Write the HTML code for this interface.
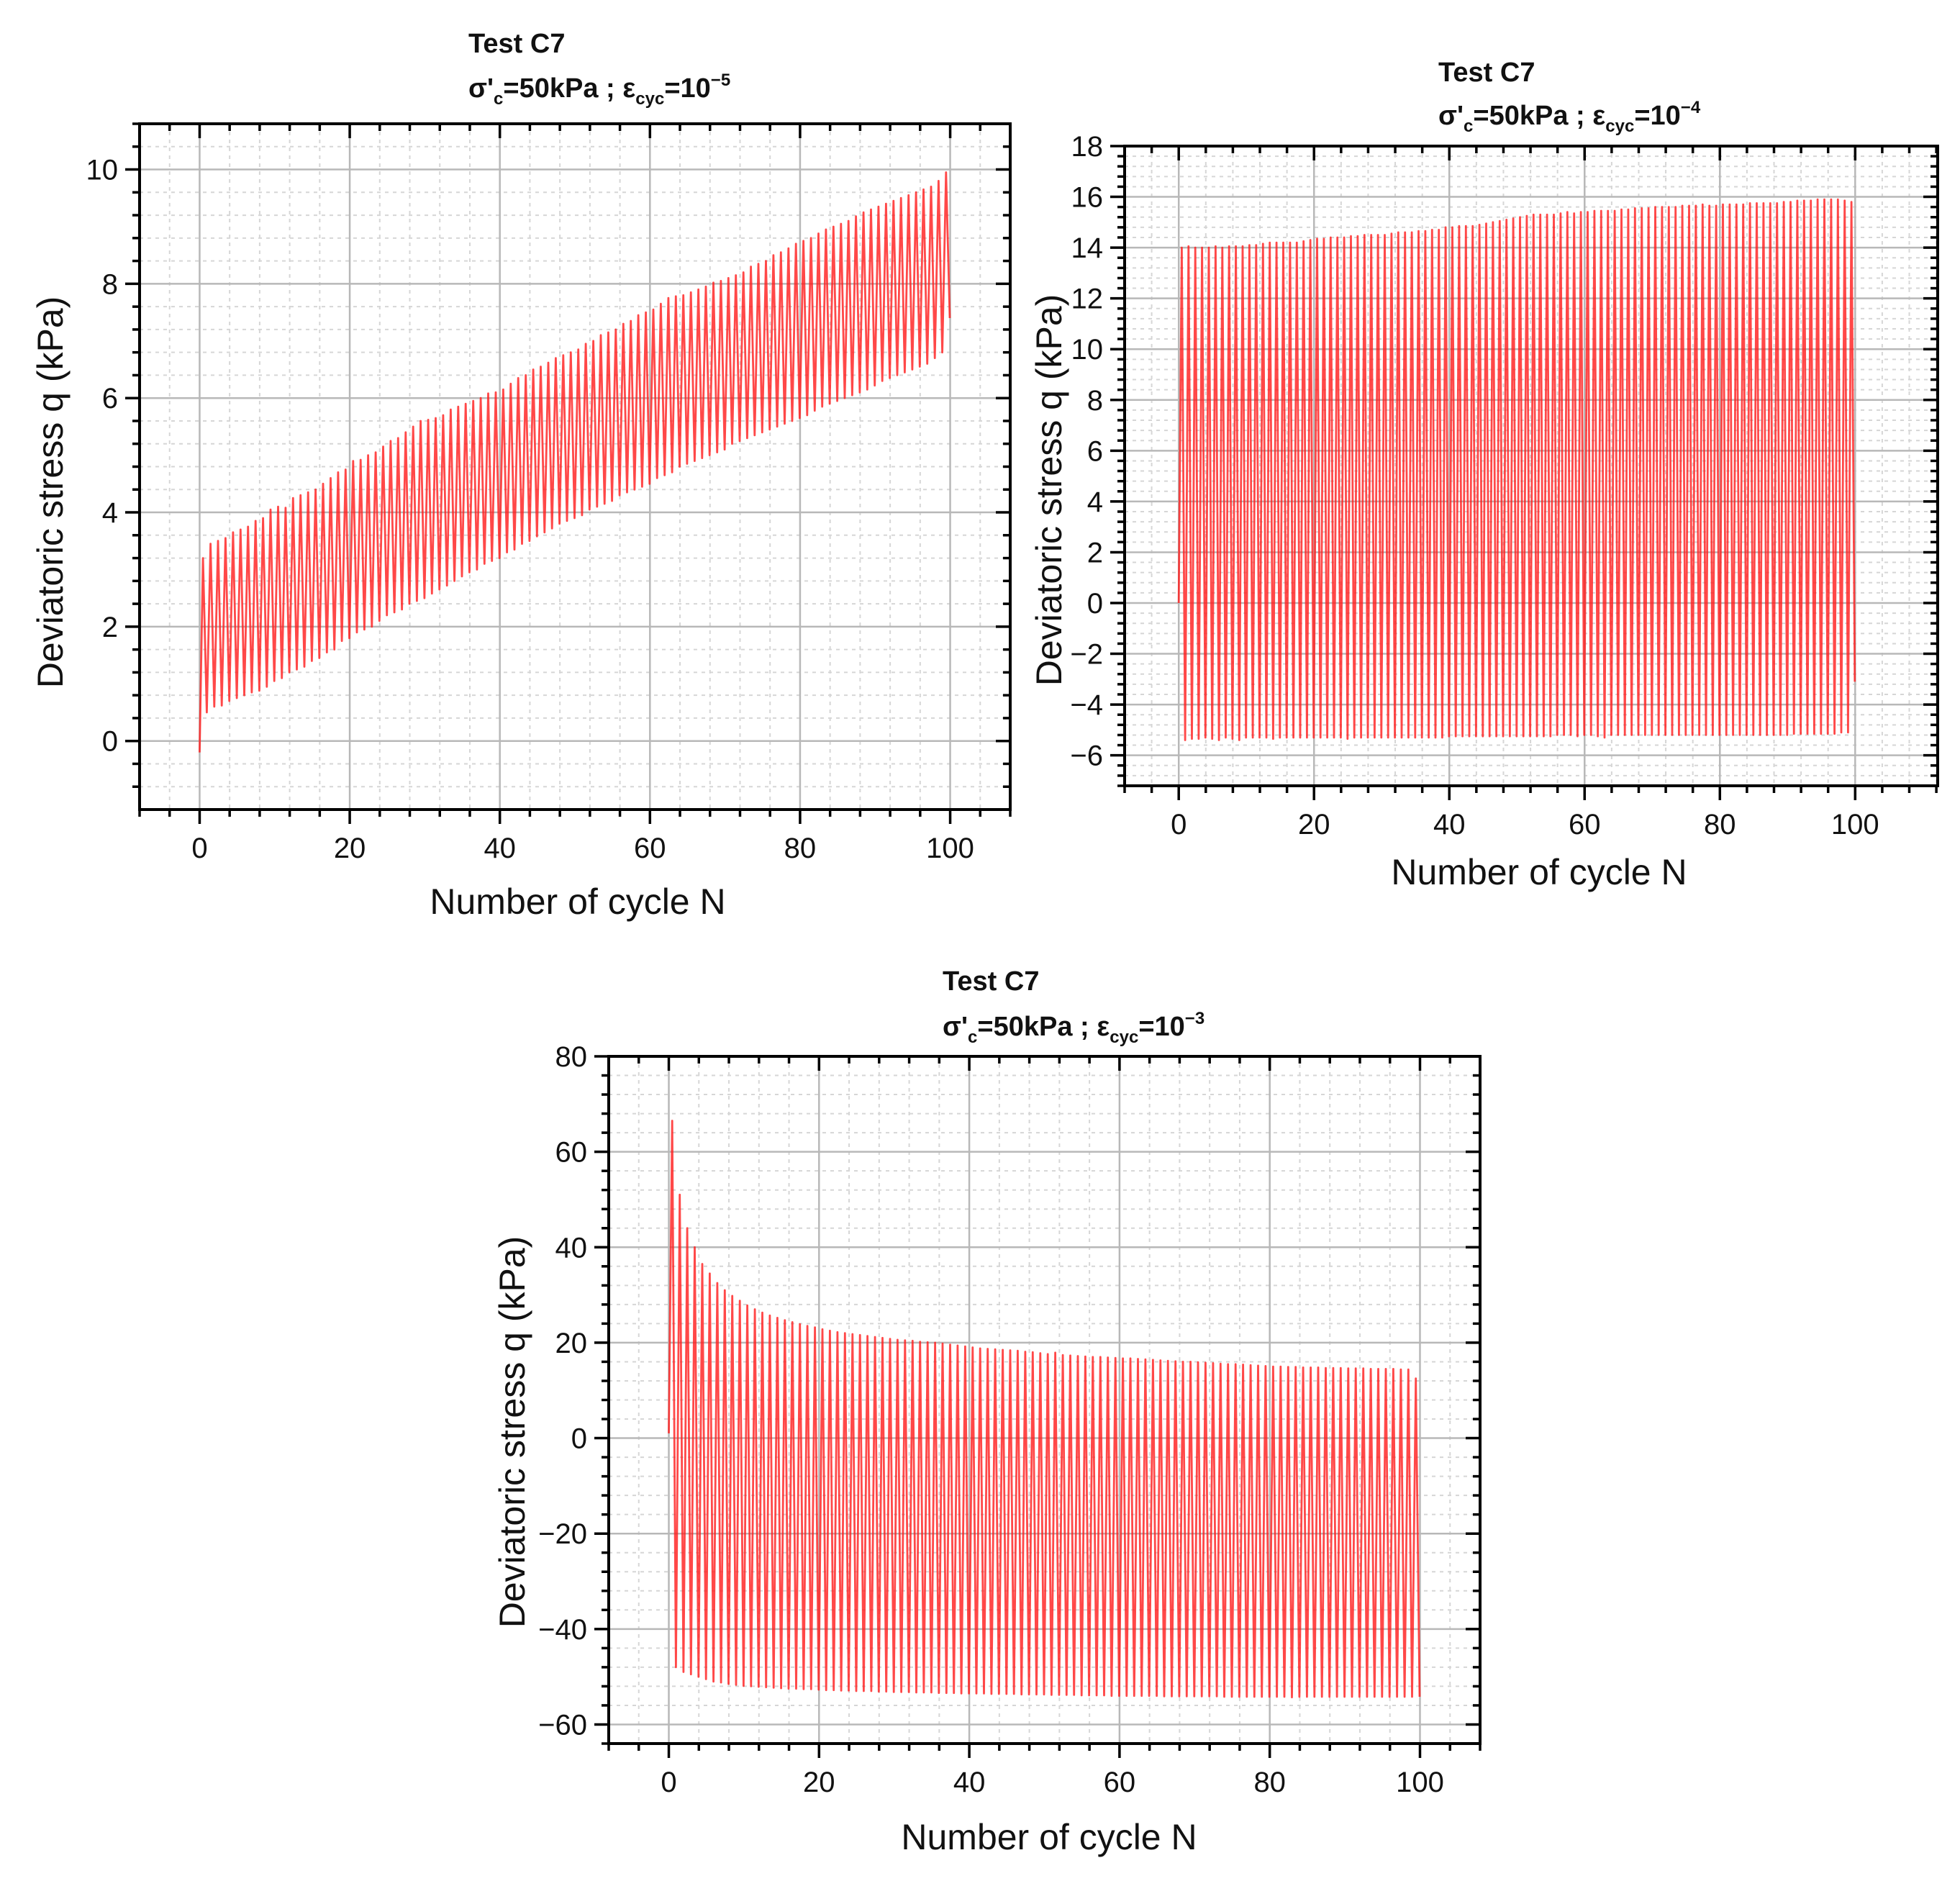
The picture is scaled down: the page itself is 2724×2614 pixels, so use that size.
<!DOCTYPE html>
<html><head><meta charset="utf-8"><style>
html,body{margin:0;padding:0;background:#fff;}
#wrap{position:relative;width:2724px;height:2614px;overflow:hidden;font-family:"Liberation Sans",Arial,sans-serif;}
.ttl{position:absolute;font-weight:bold;font-size:38px;color:#111;white-space:nowrap;line-height:1;}
.ttl sub{font-size:24px;vertical-align:-10px;}
.ttl sup{font-size:24px;vertical-align:16px;}
svg{position:absolute;left:0;top:0;}
</style></head><body>
<div id="wrap">
<div class="ttl" style="left:651px;top:42px;">Test C7</div>
<div class="ttl" style="left:651px;top:100px;">σ'<sub>c</sub>=50kPa ; ε<sub>cyc</sub>=10<sup>−5</sup></div>
<div class="ttl" style="left:1999px;top:82px;">Test C7</div>
<div class="ttl" style="left:1999px;top:138px;">σ'<sub>c</sub>=50kPa ; ε<sub>cyc</sub>=10<sup>−4</sup></div>
<div class="ttl" style="left:1310px;top:1345px;">Test C7</div>
<div class="ttl" style="left:1310px;top:1404px;">σ'<sub>c</sub>=50kPa ; ε<sub>cyc</sub>=10<sup>−3</sup></div>
<svg id="svg" width="2724" height="2614" xmlns="http://www.w3.org/2000/svg"></svg>
</div>
<script>
// ---------- Chart 1 data (eps = 1e-5) ----------
const c1Start = -0.2;
const c1Peaks = [3.20,3.45,3.50,3.55,3.65,3.70,3.75,3.85,3.90,4.05,
4.10,4.08,4.25,4.30,4.35,4.40,4.50,4.60,4.70,4.75,
4.90,4.92,5.00,5.05,5.15,5.25,5.30,5.40,5.50,5.60,
5.62,5.65,5.70,5.80,5.85,5.90,5.95,6.00,6.08,6.10,
6.15,6.25,6.35,6.40,6.50,6.55,6.62,6.70,6.75,6.80,
6.85,6.95,7.00,7.10,7.15,7.20,7.30,7.35,7.45,7.50,
7.55,7.65,7.75,7.78,7.80,7.85,7.90,7.95,8.02,8.05,
8.10,8.15,8.20,8.30,8.35,8.40,8.50,8.55,8.62,8.70,
8.75,8.80,8.88,8.95,9.00,9.05,9.10,9.18,9.25,9.30,
9.35,9.40,9.45,9.50,9.55,9.60,9.65,9.70,9.80,9.95];
const c1Troughs = [0.50,0.60,0.62,0.70,0.75,0.80,0.85,0.88,0.95,1.05,
1.10,1.20,1.25,1.30,1.40,1.45,1.55,1.60,1.75,1.80,
1.90,1.95,2.00,2.10,2.20,2.25,2.30,2.40,2.45,2.50,
2.58,2.65,2.72,2.80,2.88,2.95,3.00,3.10,3.15,3.20,
3.30,3.35,3.45,3.50,3.58,3.65,3.72,3.80,3.85,3.90,
3.95,4.05,4.10,4.15,4.20,4.30,4.35,4.40,4.45,4.50,
4.60,4.65,4.70,4.80,4.85,4.90,4.95,5.00,5.05,5.10,
5.20,5.25,5.30,5.35,5.40,5.45,5.50,5.55,5.60,5.65,
5.70,5.78,5.85,5.90,5.95,6.00,6.05,6.10,6.15,6.22,
6.30,6.35,6.40,6.45,6.50,6.55,6.60,6.70,6.80,7.40];
const c1XTicks = [0,20,40,60,80,100];
const c1YTicks = [0,2,4,6,8,10];

// ---------- Chart 2 data (eps = 1e-4) ----------
const c2Start = 0;
const c2Peaks = [14.0,14.05,14.0,14.0,14.0,14.05,14.0,14.05,14.05,14.05,
14.1,14.1,14.15,14.2,14.2,14.2,14.2,14.2,14.25,14.3,
14.35,14.35,14.4,14.4,14.4,14.45,14.45,14.5,14.5,14.5,
14.5,14.55,14.6,14.6,14.6,14.65,14.65,14.7,14.7,14.8,
14.8,14.85,14.85,14.85,14.9,14.95,15.0,15.05,15.1,15.15,
15.2,15.25,15.3,15.3,15.3,15.3,15.35,15.4,15.35,15.4,
15.4,15.45,15.45,15.45,15.45,15.5,15.5,15.55,15.55,15.55,
15.6,15.6,15.6,15.6,15.65,15.65,15.65,15.7,15.65,15.65,
15.7,15.7,15.7,15.7,15.75,15.75,15.75,15.75,15.75,15.8,
15.8,15.85,15.85,15.85,15.9,15.9,15.9,15.9,15.85,15.8];
const c2Troughs = [-5.4,-5.35,-5.35,-5.3,-5.35,-5.4,-5.3,-5.35,-5.4,-5.3,
-5.3,-5.3,-5.3,-5.35,-5.3,-5.3,-5.3,-5.3,-5.3,-5.3,
-5.3,-5.3,-5.3,-5.3,-5.35,-5.3,-5.3,-5.3,-5.3,-5.3,
-5.3,-5.3,-5.3,-5.3,-5.3,-5.3,-5.3,-5.3,-5.3,-5.25,
-5.25,-5.25,-5.25,-5.25,-5.25,-5.25,-5.25,-5.25,-5.25,-5.25,
-5.25,-5.25,-5.25,-5.25,-5.25,-5.2,-5.2,-5.2,-5.25,-5.2,
-5.2,-5.25,-5.3,-5.2,-5.2,-5.2,-5.2,-5.2,-5.2,-5.2,
-5.2,-5.2,-5.2,-5.2,-5.2,-5.2,-5.2,-5.2,-5.2,-5.2,
-5.2,-5.2,-5.2,-5.2,-5.2,-5.2,-5.2,-5.2,-5.2,-5.2,
-5.15,-5.15,-5.15,-5.15,-5.15,-5.15,-5.15,-5.1,-5.1,-3.1];
const c2XTicks = [0,20,40,60,80,100];
const c2YTicks = [-6,-4,-2,0,2,4,6,8,10,12,14,16,18];

// ---------- Chart 3 data (eps = 1e-3) ----------
const c3Start = 1;
const c3Peaks = [66.5,51,44,40,36.5,34.5,32.5,31,29.8,28.8,
27.8,27,26.3,25.7,25.2,24.7,24.3,23.9,23.5,23.2,
22.8,22.5,22.2,22,21.8,21.6,21.4,21.2,21,20.8,
20.6,20.5,20.4,20.2,20.1,20,19.8,19.6,19.4,19.2,
19,18.8,18.7,18.6,18.5,18.4,18.3,18.1,18,17.8,
17.6,17.9,17.4,17.3,17.2,17.1,17,17,16.9,16.8,
16.7,16.7,16.6,16.5,16.4,16.3,16.2,16.1,16,16,
15.9,15.8,15.7,15.6,15.5,15.5,15.4,15.3,15.2,15.1,
15,15,14.9,14.9,14.8,14.8,14.8,14.7,14.7,14.7,
14.6,14.6,14.6,14.5,14.5,14.5,14.5,14.4,14.4,12.5];
const c3Troughs = [-48,-49,-49.5,-50,-50.5,-51,-51.2,-51.5,-51.7,-51.9,
-52,-52.1,-52.2,-52.3,-52.4,-52.5,-52.5,-52.6,-52.6,-52.7,
-52.8,-52.8,-52.9,-52.9,-53,-53,-53,-53.1,-53.1,-53.2,
-53.2,-53.2,-53.3,-53.3,-53.3,-53.4,-53.4,-53.4,-53.5,-53.5,
-53.5,-53.5,-53.6,-53.6,-53.6,-53.6,-53.7,-53.7,-53.7,-53.7,
-53.8,-53.8,-53.8,-53.8,-53.9,-53.9,-53.9,-53.9,-54,-54,
-54,-54,-54,-54,-54,-54.1,-54.1,-54.1,-54.1,-54.1,
-54.1,-54.1,-54.1,-54.2,-54.2,-54.2,-54.2,-54.2,-54.2,-54.2,
-54.2,-54.2,-54.3,-54.2,-54.2,-54.2,-54.2,-54.2,-54.2,-54.2,
-54.2,-54.2,-54.2,-54.2,-54.2,-54.2,-54.2,-54.2,-54.2,-54.2];
const c3XTicks = [0,20,40,60,80,100];
const c3YTicks = [-60,-40,-20,0,20,40,60,80];

const NS = "http://www.w3.org/2000/svg";
const svg = document.getElementById('svg');
function mk(tag, attrs, parent){
  const e = document.createElementNS(NS, tag);
  for (const k in attrs) e.setAttribute(k, attrs[k]);
  (parent||svg).appendChild(e);
  return e;
}
function drawChart(id, box, xd, yd, xTicks, yTicks, xMinor, yMinor, start, peaks, troughs, yLab, xLab){
  const g = mk('g', {});
  
  
  const sx = v => box.L + (v - xd[0]) / (xd[1] - xd[0]) * (box.R - box.L);
  const sy = v => box.B - (v - yd[0]) / (yd[1] - yd[0]) * (box.B - box.T);
  const eps = 1e-6;
  const isMaj = (v, arr) => arr.some(t => Math.abs(t - v) < eps);
  const xm0 = Math.ceil(xd[0]/xMinor)*xMinor, ym0 = Math.ceil(yd[0]/yMinor)*yMinor;
  for (let v = xm0; v <= xd[1]+eps; v += xMinor){
    if (isMaj(v, xTicks) || Math.abs(v-xd[0])<eps || Math.abs(v-xd[1])<eps) continue;
    const l = mk('line', {x1:sx(v),x2:sx(v),y1:box.T,y2:box.B,stroke:'#d6d6d6','stroke-width':2,'stroke-dasharray':'5,6'}, g);
    
    
  }
  for (let v = ym0; v <= yd[1]+eps; v += yMinor){
    if (isMaj(v, yTicks) || Math.abs(v-yd[0])<eps || Math.abs(v-yd[1])<eps) continue;
    const l = mk('line', {x1:box.L,x2:box.R,y1:sy(v),y2:sy(v),stroke:'#d6d6d6','stroke-width':2,'stroke-dasharray':'5,6'}, g);
    
    
  }
  xTicks.forEach(v => {
    const l = mk('line', {x1:sx(v),x2:sx(v),y1:box.T,y2:box.B,stroke:'#b8b8b8','stroke-width':2.5}, g);
    
    
  });
  yTicks.forEach(v => {
    if (Math.abs(v-yd[1])<eps) return;
    const l = mk('line', {x1:box.L,x2:box.R,y1:sy(v),y2:sy(v),stroke:'#b8b8b8','stroke-width':2.5}, g);
    
    
  });
  let d = 'M' + sx(0).toFixed(1) + ',' + sy(start).toFixed(1);
  for (let i = 0; i < peaks.length; i++){
    d += 'L' + sx(i+0.45).toFixed(1) + ',' + sy(peaks[i]).toFixed(1);
    d += 'L' + sx(i+0.95).toFixed(1) + ',' + sy(troughs[i]).toFixed(1);
  }
  const p = mk('path', {d:d, fill:'none', stroke:'#ff1a1a', 'stroke-width':2.8, 'stroke-opacity':0.8, 'stroke-linejoin':'round'}, g);
  
  
  const tk = (x1,y1,x2,y2,nm) => {
    const l = mk('line', {x1:x1,y1:y1,x2:x2,y2:y2,stroke:'#000','stroke-width':3.5}, g);
    
    
  };
  for (let v = xm0; v <= xd[1]+eps; v += xMinor){
    const L = isMaj(v, xTicks) ? 20 : 10;
    tk(sx(v), box.B, sx(v), box.B + L, 'x-tick');
    tk(sx(v), box.T, sx(v), box.T + L, 'x-tick-top');
  }
  for (let v = ym0; v <= yd[1]+eps; v += yMinor){
    const L = isMaj(v, yTicks) ? 20 : 10;
    tk(box.L, sy(v), box.L - L, sy(v), 'y-tick');
    tk(box.R, sy(v), box.R - L, sy(v), 'y-tick-right');
  }
  const fr = mk('rect', {x:box.L, y:box.T, width:box.R-box.L, height:box.B-box.T, fill:'none', stroke:'#000', 'stroke-width':4}, g);
  
  
  xTicks.forEach(v => {
    const t = mk('text', {x:sx(v), y:box.B+67, 'text-anchor':'middle', 'font-size':40, fill:'#111', 'font-family':'Liberation Sans, Arial, sans-serif'}, g);
    t.textContent = String(v);
    
    
  });
  yTicks.forEach(v => {
    const t = mk('text', {x:box.L-30, y:sy(v)+14, 'text-anchor':'end', 'font-size':40, fill:'#111', 'font-family':'Liberation Sans, Arial, sans-serif'}, g);
    t.textContent = v < 0 ? '\u2212' + Math.abs(v) : String(v);
    
    
  });
  const xt = mk('text', {x:xLab[0], y:xLab[1]+17, 'text-anchor':'middle', 'font-size':50, fill:'#111', 'font-family':'Liberation Sans, Arial, sans-serif'}, g);
  xt.textContent = 'Number of cycle N';
  
  
  const yt = mk('text', {x:0, y:0, 'text-anchor':'middle', 'font-size':50, fill:'#111', 'font-family':'Liberation Sans, Arial, sans-serif', transform:'translate(' + (yLab[0]+17) + ',' + yLab[1] + ') rotate(-90)'}, g);
  yt.textContent = 'Deviatoric stress q (kPa)';
  
  
}
drawChart('chart-eps-1e-5', {L:194,R:1404,T:172,B:1125}, [-8,108], [-1.2,10.8], c1XTicks, c1YTicks, 4, 0.4, c1Start, c1Peaks, c1Troughs, [70,684], [803,1253]);
drawChart('chart-eps-1e-4', {L:1563,R:2693,T:203,B:1092}, [-8,112.2], [-7.2,18], c2XTicks, c2YTicks, 4, 0.4, c2Start, c2Peaks, c2Troughs, [1458,681], [2139,1212]);
drawChart('chart-eps-1e-3', {L:846,R:2057,T:1468,B:2423}, [-8,108], [-64,80], c3XTicks, c3YTicks, 4, 4, c3Start, c3Peaks, c3Troughs, [712,1990], [1458,2553]);
</script>
</body></html>
